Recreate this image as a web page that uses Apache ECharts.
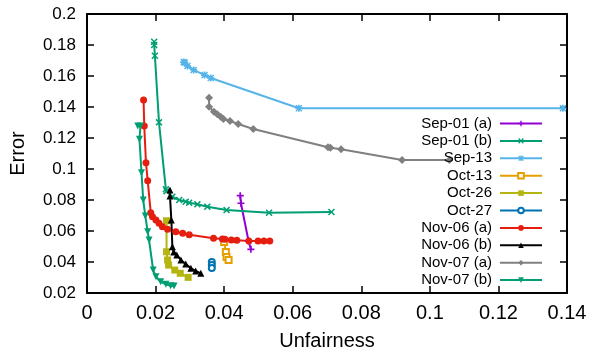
<!DOCTYPE html>
<html>
<head>
<meta charset="utf-8">
<script src="https://cdn.jsdelivr.net/npm/echarts@6/dist/echarts.min.js"></script>
<style>
  html, body { margin: 0; padding: 0; background: #fff; }
  #main { width: 592px; height: 356px; }
</style>
</head>
<body>
<div id="main"></div>
<script>
// [unfairness, error] pairs
const sep01a = [[0.0447, 0.0828], [0.0449, 0.0779], [0.0471, 0.0537], [0.0478, 0.0482]];
const sep01b = [[0.0196, 0.1821], [0.0196, 0.1800], [0.0198, 0.1731], [0.0210, 0.1301], [0.0230, 0.0869],
  [0.0232, 0.0856], [0.0249, 0.0821], [0.0269, 0.0800], [0.0288, 0.0789], [0.0298, 0.0783],
  [0.0322, 0.0772], [0.0351, 0.0757], [0.0407, 0.0735], [0.0531, 0.0718], [0.0713, 0.0723]];
const sep13 = [[0.0282, 0.1690], [0.0285, 0.1686], [0.0293, 0.1665], [0.0311, 0.1639], [0.0343, 0.1606],
  [0.0361, 0.1587], [0.0618, 0.1392], [0.1388, 0.1392]];
const oct13 = [[0.0400, 0.0529], [0.0405, 0.0464], [0.0407, 0.0432], [0.0413, 0.0413]];
const oct26 = [[0.0232, 0.0666], [0.0232, 0.0466], [0.0235, 0.0413], [0.0238, 0.0380], [0.0256, 0.0348],
  [0.0272, 0.0327], [0.0295, 0.0301]];
const oct27 = [[0.0364, 0.0400], [0.0364, 0.0380], [0.0364, 0.0362]];
const nov06a = [[0.0165, 0.1445], [0.0167, 0.1277], [0.0172, 0.1041], [0.0177, 0.0925], [0.0186, 0.0718],
  [0.0191, 0.0692], [0.0201, 0.0671], [0.0210, 0.0650], [0.0220, 0.0628], [0.0235, 0.0611],
  [0.0259, 0.0595], [0.0279, 0.0585], [0.0298, 0.0576], [0.0369, 0.0553], [0.0395, 0.0548],
  [0.0402, 0.0546], [0.0421, 0.0542], [0.0437, 0.0540], [0.0472, 0.0535], [0.0499, 0.0535],
  [0.0516, 0.0535], [0.0533, 0.0535]];
const nov06b = [[0.0242, 0.0865], [0.0242, 0.0826], [0.0246, 0.0671], [0.0249, 0.0499], [0.0253, 0.0465],
  [0.0262, 0.0445], [0.0274, 0.0413], [0.0288, 0.0387], [0.0303, 0.0359], [0.0317, 0.0342],
  [0.0332, 0.0327]];
const nov07a = [[0.0356, 0.1460], [0.0356, 0.1402], [0.0370, 0.1370], [0.0380, 0.1353], [0.0390, 0.1337],
  [0.0398, 0.1323], [0.0417, 0.1310], [0.0441, 0.1290], [0.0485, 0.1258], [0.0703, 0.1140],
  [0.0710, 0.1137], [0.0741, 0.1127], [0.0919, 0.1058], [0.1057, 0.1058]];
const nov07b = [[0.0148, 0.1277], [0.0156, 0.1277], [0.0153, 0.1192], [0.0159, 0.0976], [0.0164, 0.0800],
  [0.0170, 0.0697], [0.0177, 0.0595], [0.0181, 0.0542], [0.0193, 0.0348], [0.0201, 0.0305],
  [0.0215, 0.0273], [0.0230, 0.0256], [0.0244, 0.0247], [0.0254, 0.0245]];

const seriesNames = ['Sep-01 (a)', 'Sep-01 (b)', 'Sep-13', 'Oct-13', 'Oct-26', 'Oct-27',
  'Nov-06 (a)', 'Nov-06 (b)', 'Nov-07 (a)', 'Nov-07 (b)'];
const seriesData = [sep01a, sep01b, sep13, oct13, oct26, oct27, nov06a, nov06b, nov07a, nov07b];

const colors = ['#9400d3', '#009e73', '#56b4e9', '#e69f00', '#b5b512', '#0072b2',
  '#e51e10', '#000000', '#808080', '#009e73'];

const PLUS = 'path://M3.8,0H6.2V3.8H10V6.2H6.2V10H3.8V6.2H0V3.8H3.8Z';
const CROSS = 'path://M1.5,0L5,3.5L8.5,0L10,1.5L6.5,5L10,8.5L8.5,10L5,6.5L1.5,10L0,8.5L3.5,5L0,1.5Z';
const STAR = 'path://M3.8,0H6.2V3.8H10V6.2H6.2V10H3.8V6.2H0V3.8H3.8Z' +
  'M1.5,0L5,3.5L8.5,0L10,1.5L6.5,5L10,8.5L8.5,10L5,6.5L1.5,10L0,8.5L3.5,5L0,1.5Z';
const TRI_DOWN = 'path://M0,0H10L5,9Z';
const symbols = [PLUS, CROSS, STAR, 'emptyRect', 'rect', 'emptyCircle',
  'circle', 'triangle', 'diamond', TRI_DOWN];
const symbolSizes = [7, 7, 7, 6, 7, 6, 7, 7, 8, 7];

const FONT = 'Liberation Sans, Arial, sans-serif';
const fmt = v => String(parseFloat(v.toFixed(2)));

const chart = echarts.init(document.getElementById('main'), null, { renderer: 'canvas' });

const baseX = {
  type: 'value', min: 0, max: 0.14, interval: 0.02,
  splitLine: { show: false },
  axisLine: { show: true, onZero: false, lineStyle: { color: '#000', width: 2 } },
  axisTick: { show: true, inside: true, length: 7, lineStyle: { color: '#000', width: 1.5 } }
};
const baseY = {
  type: 'value', min: 0.02, max: 0.2, interval: 0.02,
  splitLine: { show: false },
  axisLine: { show: true, onZero: false, lineStyle: { color: '#000', width: 2 } },
  axisTick: { show: true, inside: true, length: 7, lineStyle: { color: '#000', width: 1.5 } }
};

chart.setOption({
  animation: false,
  textStyle: { fontFamily: FONT },
  grid: { left: 86, right: 25, top: 14, bottom: 63, containLabel: false },
  legend: {
    orient: 'vertical',
    right: 44,
    top: 111,
    align: 'right',
    itemWidth: 42,
    itemHeight: 7,
    itemGap: 2.4,
    textStyle: { fontFamily: FONT, fontSize: 15, color: '#000', lineHeight: 15, padding: [0, 3, 0, 0] },
    data: seriesNames
  },
  xAxis: [
    Object.assign({}, baseX, {
      position: 'bottom',
      name: 'Unfairness', nameLocation: 'middle', nameGap: 38,
      nameTextStyle: { fontFamily: FONT, fontSize: 20, color: '#000' },
      axisLabel: { fontFamily: FONT, fontSize: 20, color: '#000', margin: 10, formatter: fmt }
    }),
    Object.assign({}, baseX, { position: 'top', axisLabel: { show: false } })
  ],
  yAxis: [
    Object.assign({}, baseY, {
      position: 'left',
      name: 'Error', nameLocation: 'middle', nameGap: 59,
      nameTextStyle: { fontFamily: FONT, fontSize: 20, color: '#000' },
      axisLabel: { fontFamily: FONT, fontSize: 17, color: '#000', margin: 11, formatter: fmt }
    }),
    Object.assign({}, baseY, { position: 'right', axisLabel: { show: false } })
  ],
  series: seriesNames.map((name, i) => ({
    name: name,
    type: 'line',
    xAxisIndex: 0,
    yAxisIndex: 0,
    data: seriesData[i],
    symbol: symbols[i],
    symbolSize: symbolSizes[i],
    showAllSymbol: true,
    color: colors[i],
    lineStyle: { width: 2, color: colors[i] },
    itemStyle: { color: colors[i], borderColor: colors[i], borderWidth: symbols[i].startsWith('empty') ? 1.5 : 0 },
    emphasis: { disabled: true }
  }))
});
</script>
</body>
</html>
